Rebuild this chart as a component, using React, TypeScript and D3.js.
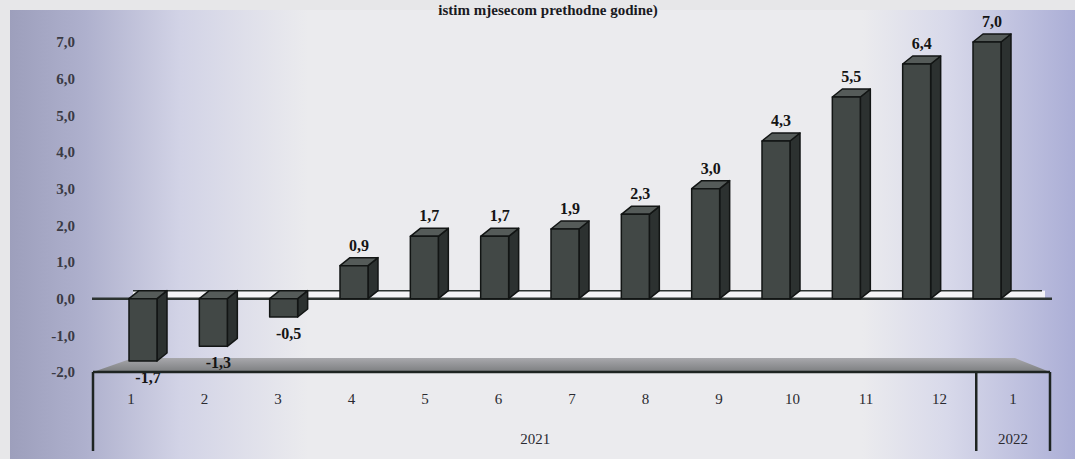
import React from "react";
import * as d3 from "d3";

const monthLabels = ["1", "2", "3", "4", "5", "6", "7", "8", "9", "10", "11", "12", "1"];
const values = [-1.7, -1.3, -0.5, 0.9, 1.7, 1.7, 1.9, 2.3, 3.0, 4.3, 5.5, 6.4, 7.0];
const yTicks = [-2, -1, 0, 1, 2, 3, 4, 5, 6, 7];
const yearGroups = [
  { label: "2021", from: 0, to: 11 },
  { label: "2022", from: 12, to: 12 },
];
const titleText = "istim mjesecom prethodne godine)";

const W = 1075;
const H = 459;
const fmt = (v: number) => v.toFixed(1).replace(".", ",");

export default function App() {
  const idx = values.map((_, i) => i);
  const xBar = d3.scalePoint<number>().domain(idx).range([143, 987]);
  const xLab = d3.scalePoint<number>().domain(idx).range([131, 1013]);
  const y = d3.scaleLinear().domain([-2, 7]).range([372, 42]);

  const bw = 28;
  const ddx = 10;
  const ddy = -8;
  const y0 = y(0);
  const floorY = y(-2);
  const leftEdge = xLab(0)! - 38;
  const rightEdge = xLab(12)! + 37;
  const sep = (xLab(11)! + xLab(12)!) / 2;

  const serif = "'Liberation Serif', 'DejaVu Serif', serif";

  return (
    <svg
      width={W}
      height={H}
      style={{ position: "absolute", left: 0, top: 0, display: "block" }}
      fontFamily={serif}
    >
      <defs>
        <linearGradient id="bgGrad" x1="0" x2="1" y1="0" y2="0">
          <stop offset="0" stopColor="#9d9fbc" />
          <stop offset="0.07" stopColor="#aeb0cd" />
          <stop offset="0.16" stopColor="#d2d3e6" />
          <stop offset="0.28" stopColor="#ebebee" />
          <stop offset="0.8" stopColor="#ebebee" />
          <stop offset="0.88" stopColor="#d8d9ea" />
          <stop offset="1" stopColor="#abaed6" />
        </linearGradient>
        <linearGradient id="floorGrad" x1="0" x2="0" y1="0" y2="1">
          <stop offset="0" stopColor="#a8a8ac" />
          <stop offset="1" stopColor="#7c7e80" />
        </linearGradient>
      </defs>
      <rect x={0} y={0} width={W} height={H} fill="#e7e7e9" />
      <rect x={10} y={10} width={W - 10} height={H - 10} fill="url(#bgGrad)" />

      <text
        x={548}
        y={15}
        textAnchor="middle"
        fontWeight="bold"
        fontSize={15}
        fill="#1a1a22"
      >
        {titleText}
      </text>

      {/* y axis labels */}
      {yTicks.map((t) => (
        <text
          key={t}
          x={75}
          y={y(t)}
          dy="0.35em"
          textAnchor="end"
          fontSize={15}
          fontWeight="bold"
          fill="#3a3a44"
        >
          {fmt(t)}
        </text>
      ))}

      {/* zero plane */}
      <rect x={leftEdge + 40} y={y0 + ddy} width={rightEdge - leftEdge - 45} height={-ddy} fill="#f4f4f6" />
      <line x1={leftEdge + 40} x2={rightEdge - 8} y1={y0 + ddy} y2={y0 + ddy} stroke="#2c3330" strokeWidth={1.5} />
      <line x1={leftEdge - 1} x2={rightEdge + 2} y1={y0} y2={y0} stroke="#2c3330" strokeWidth={2.5} />

      {/* floor */}
      <path
        d={`M${leftEdge},${floorY} L${leftEdge + 40},${floorY - 14} L${rightEdge - 35},${floorY - 14} L${rightEdge},${floorY} Z`}
        fill="url(#floorGrad)"
      />

      {/* bars */}
      {values.map((v, i) => {
        const cx = xBar(i)!;
        const x0 = cx - bw / 2;
        const x1 = cx + bw / 2;
        const yt = Math.min(y(v), y0);
        const yb = Math.max(y(v), y0);
        return (
          <g key={i} stroke="#121514" strokeWidth={1.5} strokeLinejoin="round">
            <path
              d={`M${x1},${yt} L${x1 + ddx},${yt + ddy} L${x1 + ddx},${yb + ddy} L${x1},${yb} Z`}
              fill="#2c3130"
            />
            <path
              d={`M${x0},${yt} L${x0 + ddx},${yt + ddy} L${x1 + ddx},${yt + ddy} L${x1},${yt} Z`}
              fill="#555b59"
            />
            <rect x={x0} y={yt} width={bw} height={yb - yt} fill="#424846" />
          </g>
        );
      })}

      {/* value labels */}
      {values.map((v, i) => (
        <text
          key={i}
          x={xBar(i)! + ddx / 2}
          y={v >= 0 ? y(v) - 15 : y(v) + 22}
          textAnchor="middle"
          fontWeight="bold"
          fontSize={16}
          fill="#141414"
        >
          {fmt(v)}
        </text>
      ))}

      {/* category table lines */}
      <line x1={leftEdge} x2={rightEdge} y1={floorY} y2={floorY} stroke="#1e2422" strokeWidth={2.5} />
      <line x1={leftEdge} x2={leftEdge} y1={floorY} y2={451} stroke="#1e2422" strokeWidth={2.5} />
      <line x1={sep} x2={sep} y1={floorY} y2={451} stroke="#1e2422" strokeWidth={2.5} />
      <line x1={rightEdge} x2={rightEdge} y1={floorY} y2={451} stroke="#1e2422" strokeWidth={2.5} />

      {monthLabels.map((m, i) => (
        <text
          key={i}
          x={xLab(i)!}
          y={404}
          textAnchor="middle"
          fontSize={15}
          fill="#2a2a30"
        >
          {m}
        </text>
      ))}
      {yearGroups.map((g) => (
        <text
          key={g.label}
          x={(xLab(g.from)! + xLab(g.to)!) / 2}
          y={444}
          textAnchor="middle"
          fontSize={15}
          fill="#2a2a30"
        >
          {g.label}
        </text>
      ))}
    </svg>
  );
}
